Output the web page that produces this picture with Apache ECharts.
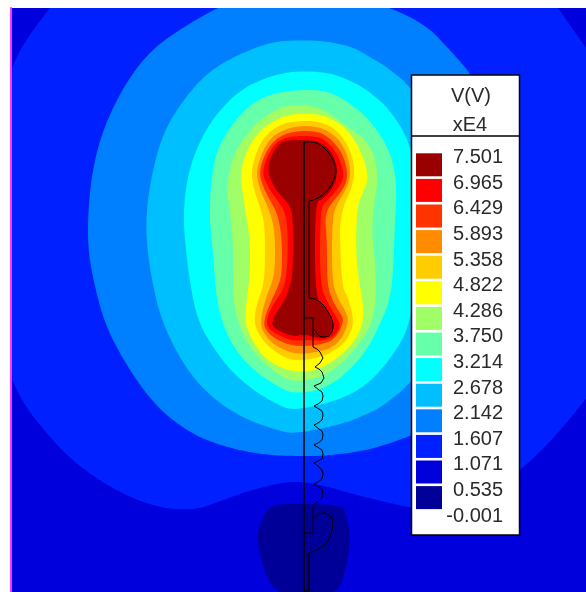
<!DOCTYPE html>
<html>
<head>
<meta charset="utf-8">
<style>html,body{margin:0;padding:0;background:#fff}#c{width:586px;height:592px}</style>
<script src="https://cdn.jsdelivr.net/npm/echarts@6/dist/echarts.min.js"></script>
</head>
<body>
<div id="c"></div>
<script>
// Legend
const tickLabels = ['7.501','6.965','6.429','5.893','5.358','4.822','4.286','3.750','3.214','2.678','2.142','1.607','1.071','0.535','-0.001'];
const bandNames = ['6.965-7.501','6.429-6.965','5.893-6.429','5.358-5.893','4.822-5.358','4.286-4.822','3.750-4.286','3.214-3.750','2.678-3.214','2.142-2.678','1.607-2.142','1.071-1.607','0.535-1.071','-0.001-0.535'];
const bandColors = ['#990000','#ff0000','#ff3300','#ff8c00','#ffcc00','#ffff00','#a0ff66','#66ffaa','#00ffff','#00bfff','#0080ff','#0020ff','#0000dc','#000099'];
const bandSwatch = [1,1,1,1,1,1,1,1,1,1,1,1,1,1];

// Contour outlines: each is the boundary of V >= level, in image-plane units
const contour1071 = [[50,8],[33,30],[20,50],[12,68],[4,85],[4,365],[12,379],[23,403],[43,429],[67,456],[97,479],[127,496],[160,508],[193,510],[213,504],[247,491],[293,480],[326,486],[360,496],[411,508],[440,511],[480,497],[520,471],[553,439],[586,399],[596,385],[596,62],[586,48],[558,8],[550,-4],[58,-4]];
const contour1607 = [[187,25],[217,8],[250,-6],[350,-6],[391,8],[426,25],[450,50],[470,73],[495,110],[510,170],[515,230],[510,300],[480,380],[440,425],[410,436],[370,450],[326,456],[293,456],[267,455],[233,449],[200,438],[173,421],[150,399],[127,366],[107,329],[97,296],[88,253],[88,210],[93,167],[103,130],[120,93],[140,63],[160,43]];
const contour2142 = [[293,40],[267,43],[233,57],[207,73],[183,100],[163,133],[152,173],[146,213],[147,250],[155,296],[163,323],[177,353],[197,383],[223,406],[250,421],[277,430],[293,434],[340,425],[370,413],[387,403],[411,383],[450,330],[462,260],[460,200],[440,130],[411,87],[387,67],[370,57],[353,47],[326,41]];
const contour2678 = [[293,71],[267,77],[240,90],[217,113],[200,140],[188,173],[183,213],[186,253],[192,296],[200,326],[217,353],[233,373],[257,393],[277,404],[293,411],[340,400],[370,383],[397,350],[410,323],[415,280],[416,230],[413,160],[407,137],[390,110],[370,92],[350,80],[326,72]];
const contour3214 = [[293,90],[267,95],[247,107],[230,127],[217,150],[212,173],[209,213],[213,253],[216,296],[223,326],[237,353],[257,373],[277,386],[293,394],[326,389],[353,367],[370,345],[383,317],[388,305],[393,280],[395,220],[397,183],[390,150],[370,120],[350,103],[326,90]];
const contour3750 = [[293,104],[277,109],[257,122],[237,147],[230,167],[227,190],[230,213],[233,240],[233,296],[237,319],[247,343],[260,359],[277,374],[293,382],[320,378],[343,363],[363,339],[373,320],[376,296],[375,260],[372,235],[373,210],[379,173],[370,143],[343,123],[320,107]];
const contour4286 = [[300,113],[280,117],[260,130],[247,149],[240,173],[243,195],[246,215],[250,240],[250,273],[248,290],[246,305],[245,323],[252,340],[262,355],[275,365],[293,372],[315,371],[335,360],[350,347],[360,332],[364,315],[362,296],[357,270],[356,240],[357,207],[362,195],[368,180],[366,165],[358,145],[345,127],[325,115]];
const contour4822 = [[300,121],[283,123],[266,134],[256,152],[251,173],[254,190],[260,207],[265,225],[265,273],[262,290],[256,307],[254,323],[260,337],[272,350],[293,362],[323,357],[340,347],[350,335],[354,320],[348,297],[342,287],[340,240],[340,225],[343,207],[351,190],[355,173],[352,155],[345,140],[333,127],[317,121]];
const contour5358 = [[300,126],[285,129],[270,138],[261,155],[256,173],[260,190],[267,205],[273,222],[275,240],[275,267],[272,283],[265,300],[260,323],[264,334],[274,345],[293,354],[313,353],[332,348],[343,337],[349,320],[345,310],[337,297],[332,280],[332,225],[335,207],[347,188],[351,173],[347,153],[338,138],[323,128],[310,126]];
const contour5893 = [[300,131],[287,133],[273,141],[264,156],[259,173],[263,187],[270,200],[278,215],[282,240],[282,273],[278,287],[270,303],[263,323],[267,332],[277,340],[293,346],[310,346],[328,343],[338,335],[344,320],[340,313],[332,300],[327,283],[327,240],[325,220],[328,207],[343,190],[348,177],[345,160],[337,145],[323,133],[310,131]];
const contour6429 = [[300,136],[287,137],[275,143],[267,157],[262,173],[268,187],[277,200],[286,213],[288,240],[287,273],[283,290],[274,303],[267,317],[267,328],[280,336],[293,341],[307,340],[323,341],[335,336],[341,325],[335,315],[328,303],[322,290],[320,267],[320,240],[321,207],[328,200],[337,190],[344,178],[342,165],[335,150],[323,138],[310,136]];
const contour6965 = [[283,140],[275,149],[269,161],[268,173],[274,187],[283,198],[291,207],[293,223],[293,273],[289,290],[282,305],[273,317],[272,328],[293,337],[304,334],[317,338],[328,338],[334,328],[332,318],[325,307],[315,298],[315,202],[323,199],[333,188],[337,177],[337,165],[331,151],[320,142],[310,140]];
const contourLow = [[267,509],[259,527],[257,540],[262,563],[275,596],[336,596],[345,573],[351,540],[346,513],[343,507],[330,505],[313,504],[290,503],[273,506]];

const contourColors = ['#0020ff','#0080ff','#00bfff','#00ffff','#66ffaa','#a0ff66','#ffff00','#ffcc00','#ff8c00','#ff3300','#ff0000','#990000','#000099'];
const contours = [contour1071,contour1607,contour2142,contour2678,contour3214,contour3750,contour4286,contour4822,contour5358,contour5893,contour6429,contour6965,contourLow];

// Antenna geometry
const feedLine = [[304,142],[304,591],[309,591],[309,553]];
const topCap = [[304,142],[311,142],[317,143],[323,147],[328,152],[332,158],[335,165],[336,171],[335,177],[332,184],[328,190],[323,195],[318,198],[313,200],[309,201],[309,298]];
const midCap = [[309,298],[315,299],[320,302],[325,307],[328,312],[331,317],[333,323],[333,328],[332,332],[329,336],[325,337],[321,337],[318,335],[315,330],[313,328]];
const neck = [[304,318],[313,318],[313,347]];
const helix = [[313,347],[317,349],[320,352],[323,358],[320,363],[315,367],[319,369],[322,372],[324,378],[321,383],[314,386],[319,390],[322,392],[323,396],[322,401],[318,404],[314,406],[319,409],[322,411],[323,415],[322,420],[318,423],[314,425],[319,429],[322,431],[323,435],[322,440],[318,443],[314,445],[319,448],[322,450],[323,454],[322,459],[318,461],[314,463],[319,467],[322,470],[323,474],[322,479],[318,482],[314,484],[319,487],[322,489],[323,493],[322,498],[318,502],[313,505],[313,533],[304,533]];
const lowCap = [[313,520],[317,515],[321,513],[325,513],[329,515],[332,518],[333,525],[332,531],[330,537],[326,543],[322,547],[316,550],[309,553]];
const antennaParts = [feedLine,topCap,midCap,neck,helix,lowCap];

const X_MIN = 11, X_MAX = 586, Y_MIN = 8, Y_MAX = 592;

// Corner-cutting of a closed outline, done on the screen points the axes returned
function rounded(points, passes){
  let out = points;
  for(let n=0;n<passes;n++){
    const next = [];
    for(let i=0;i<out.length;i++){
      const a = out[i], b = out[(i+1)%out.length];
      next.push([a[0]*0.75+b[0]*0.25, a[1]*0.75+b[1]*0.25]);
      next.push([a[0]*0.25+b[0]*0.75, a[1]*0.25+b[1]*0.75]);
    }
    out = next;
  }
  return out;
}

const chart = echarts.init(document.getElementById('c'), null, {renderer:'canvas'});

const option = {
  animation:false,
  backgroundColor:'#ffffff',
  grid:[
    {left:X_MIN, top:Y_MIN, width:X_MAX-X_MIN, height:Y_MAX-Y_MIN, show:true, backgroundColor:'#0000dc', borderWidth:0},
    {left:416, top:152, width:26, height:358.4},
    {left:503, top:144.8, width:1, height:384}
  ],
  xAxis:[
    {gridIndex:0, type:'value', min:X_MIN, max:X_MAX, show:false},
    {gridIndex:1, type:'value', min:0, max:1, show:false},
    {gridIndex:2, type:'value', min:0, max:1, show:false}
  ],
  yAxis:[
    {gridIndex:0, type:'value', min:Y_MIN, max:Y_MAX, inverse:true, position:'left',
     axisLine:{show:true, onZero:false, lineStyle:{color:'#ff33ff', width:2}},
     axisTick:{show:false}, axisLabel:{show:false}, splitLine:{show:false}, z:4},
    {gridIndex:1, type:'category', data:bandNames, inverse:true, show:false},
    {gridIndex:2, type:'category', data:tickLabels, inverse:true, position:'left', z:8,
     axisLine:{show:false}, axisTick:{show:false}, splitLine:{show:false},
     axisLabel:{show:true, interval:0, margin:0, fontFamily:'Liberation Sans', fontSize:20, color:'#2a2a2a', align:'right', verticalAlign:'middle'}}
  ],
  title:[
    {text:'V(V)', left:466, top:91, textAlign:'center', textVerticalAlign:'middle', z:8,
     textStyle:{fontFamily:'Liberation Sans', fontSize:20, fontWeight:'normal', color:'#2a2a2a'}},
    {text:'xE4', left:465, top:120, textAlign:'center', textVerticalAlign:'middle', z:8,
     textStyle:{fontFamily:'Liberation Sans', fontSize:20, fontWeight:'normal', color:'#2a2a2a'}}
  ],
  graphic:{elements:[
    {type:'rect', z:5, shape:{x:411.5,y:75,width:108,height:460}, style:{fill:'#ffffff', stroke:'#000000', lineWidth:1.5}},
    {type:'line', z:5, shape:{x1:411,y1:136,x2:520,y2:136}, style:{stroke:'#000000', lineWidth:1.5}}
  ]},
  series:[
    {
      type:'custom', coordinateSystem:'cartesian2d', xAxisIndex:0, yAxisIndex:0, silent:true, clip:true, z:1,
      data:contours.map((c,i)=>[c[0][0],c[0][1],i]),
      encode:{x:0,y:1},
      renderItem:function(params,api){
        const i = api.value(2);
        const pts = rounded(contours[i].map(p=>api.coord(p)), 3);
        return {type:'polygon', shape:{points:pts}, style:{fill:contourColors[i], stroke:null}};
      }
    },
    ...antennaParts.map((part,k)=>({
      type:'line', xAxisIndex:0, yAxisIndex:0, data:part, symbol:'none', silent:true, clip:true, z:2,
      lineStyle:{color:'#000000', width:k===0?1.5:1}
    })),
    {
      type:'bar', xAxisIndex:1, yAxisIndex:1, data:bandSwatch.map((v,i)=>({value:v, itemStyle:{color:bandColors[i]}})),
      barWidth:23, silent:true, z:6
    }
  ]
};
chart.setOption(option);
</script>
</body>
</html>
